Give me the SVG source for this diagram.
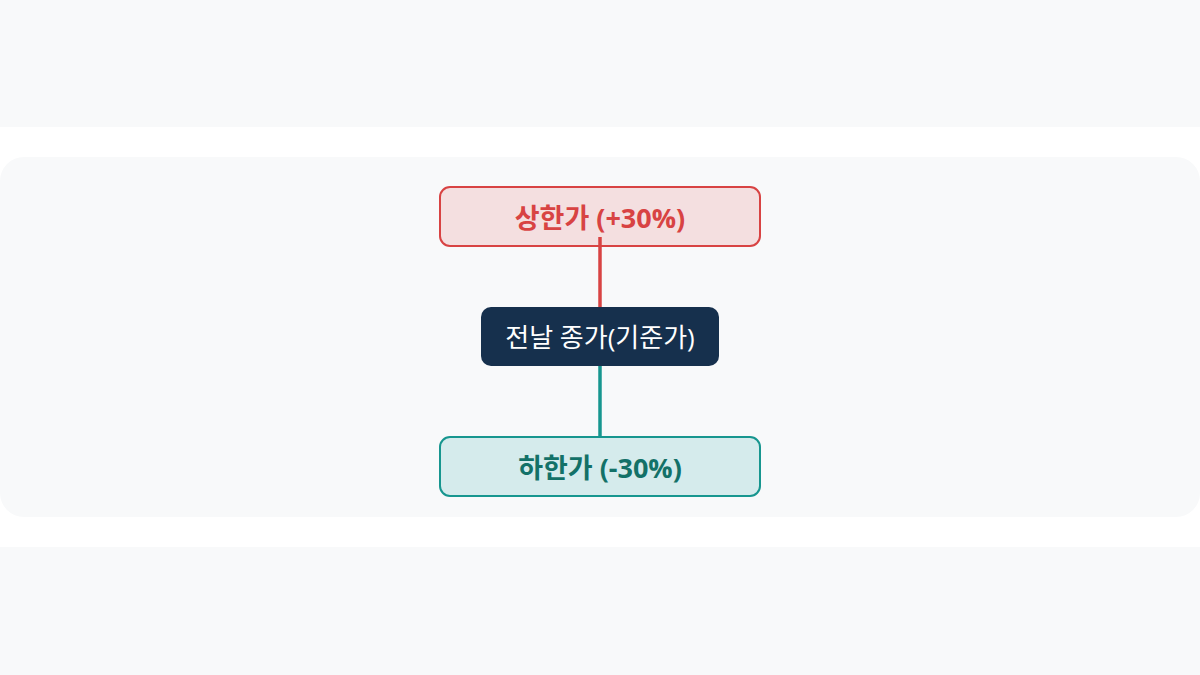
<svg xmlns="http://www.w3.org/2000/svg" width="1200" height="675" viewBox="0 0 1200 675">
<style>
.band{fill:#f8f9fa}
.t{font-family:"Open Sans","Noto Sans CJK KR",sans-serif;text-anchor:middle;dominant-baseline:central}
.b{font-weight:700;font-size:27px}
</style>
<rect width="1200" height="675" fill="#ffffff"/>
<rect class="band" x="0" y="0" width="1200" height="127"/>
<rect class="band" x="0" y="547" width="1200" height="128"/>
<rect class="band" x="0" y="157" width="1200" height="360" rx="24"/>
<g id="upper">
<rect x="440" y="187" width="320" height="59" rx="10" fill="#f4dfe0" stroke="#d84343" stroke-width="2"/>
<text class="t b" x="600" y="217" fill="#d84343">상한가 (+30%)</text>
</g>
<g id="base">
<rect x="481" y="307" width="238" height="59" rx="10" fill="#16304d"/>
<text class="t" x="600" y="337" fill="#ffffff" font-size="26">전날 종가(기준가)</text>
</g>
<g id="lower">
<rect x="440" y="437" width="320" height="59" rx="10" fill="#d5ebec" stroke="#17968f" stroke-width="2"/>
<text class="t b" x="600" y="467" fill="#137168">하한가 (-30%)</text>
</g>
<g id="connectors">
<line x1="600" y1="237" x2="600" y2="307" stroke="#d84343" stroke-width="3.5"/>
<line x1="600" y1="366" x2="600" y2="437" stroke="#17968f" stroke-width="3.5"/>
</g>
</svg>
